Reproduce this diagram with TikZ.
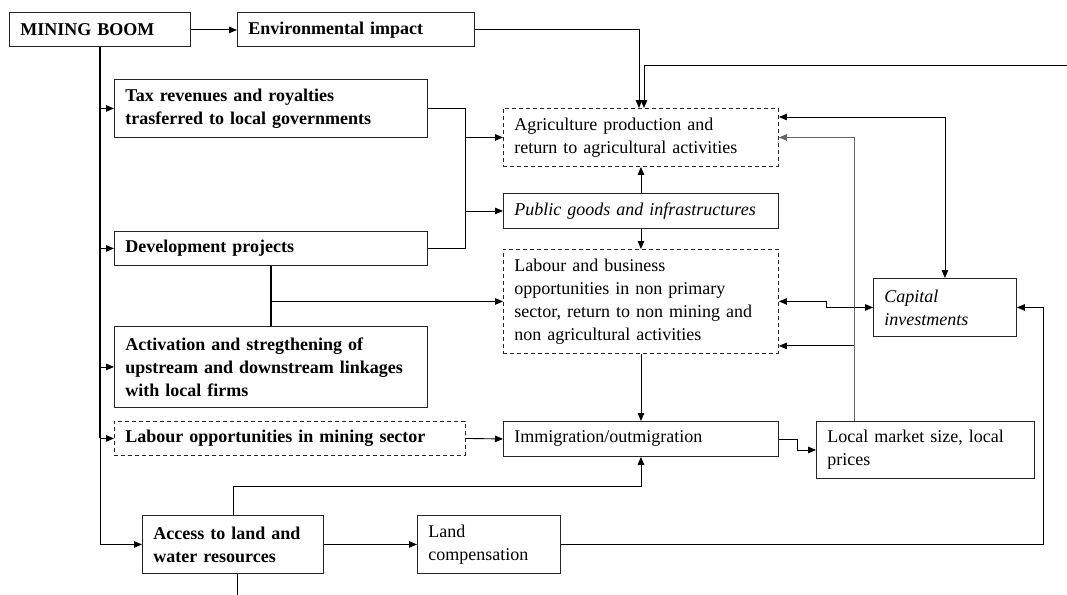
\documentclass[tikz,border=0pt]{standalone}
\usepackage{fontspec}
\setmainfont{Liberation Serif}
\usetikzlibrary{arrows.meta}
\tikzset{
  blk/.style={draw=black!85, line width=0.9pt, anchor=north west, align=left,
    inner xsep=11pt, inner ysep=0pt, font=\fontsize{18}{23}\selectfont},
  blkb/.style={blk, font=\fontsize{18}{23}\selectfont\bfseries},
  blki/.style={blk, font=\fontsize{18}{23}\selectfont\itshape},
  dashbox/.style={dash pattern=on 4pt off 3pt},
}
\begin{document}
\begin{tikzpicture}[x=1pt,y=-1pt,>={Triangle[length=8pt,width=6.5pt]},
  line width=0.9pt]
  \useasboundingbox (0,0) rectangle (1067,594);

  % left column
  \node[blkb,minimum width=181pt,minimum height=34pt,text width=159pt] (boom) at (9,12.5) {MINING BOOM};
  \node[blkb,minimum width=237pt,minimum height=34pt,text width=215pt] (env) at (237,12.5) {Environmental impact};
  \node[blkb,minimum width=313pt,minimum height=58pt,text width=291pt] (tax) at (114,79) {Tax revenues and royalties\\trasferred to local governments};
  \node[blkb,minimum width=313pt,minimum height=34pt,text width=291pt] (dev) at (114,231) {Development projects};
  \node[blkb,minimum width=313pt,minimum height=81pt,text width=291pt] (act) at (114,326) {Activation and stregthening of\\upstream and downstream linkages\\with local firms};
  \node[blkb,dashbox,minimum width=351pt,minimum height=34pt,text width=329pt] (labmin) at (114,421) {Labour opportunities in mining sector};
  \node[blkb,minimum width=181pt,minimum height=58pt,text width=159pt] (access) at (142,515) {Access to land and\\water resources};
  \node[blk,minimum width=143pt,minimum height=58pt,text width=121pt] (landc) at (417,515) {Land\\compensation};

  % middle column
  \node[blk,dashbox,minimum width=275pt,minimum height=58pt,text width=253pt] (agri) at (503,108) {Agriculture production and\\return to agricultural activities};
  \node[blki,minimum width=275pt,minimum height=35pt,text width=253pt] (pub) at (503,193) {Public goods and infrastructures};
  \node[blk,dashbox,minimum width=275pt,minimum height=104pt,text width=253pt] (labour) at (503,249) {Labour and business\\opportunities in non primary\\sector, return to non mining and\\non agricultural activities};
  \node[blk,minimum width=275pt,minimum height=35pt,text width=253pt] (immig) at (503,421) {Immigration/outmigration};

  % right column
  \node[blki,minimum width=143pt,minimum height=58pt,text width=121pt] (capital) at (873,278) {Capital\\investments};
  \node[blk,minimum width=218pt,minimum height=57pt,text width=196pt] (market) at (816,421) {Local market size, local\\prices};

  \coordinate (rin) at (1067,65);
  \coordinate (fork) at (465,107);
  \coordinate (mk) at (854,421);

  % trunk from the mining boom
  \draw[->] (boom.east) -- (env.west);
  \draw[line width=1.3pt] (boom.south) -- (boom.south |- labmin.west);
  \draw[->] (boom.south |- labmin.west) |- (access.west);
  \draw[->] (boom.south |- tax.west) -- (tax.west);
  \draw[->] (boom.south |- dev.west) -- (dev.west);
  \draw[->] (boom.south |- act.west) -- (act.west);
  \draw[->] (boom.south |- labmin.west) -- (labmin.west);

  % into agriculture from above
  \draw[->] (env.east) -| ([xshift=-2pt]agri.north);
  \draw[->] (rin) -| ([xshift=3pt]agri.north);

  % tax and development fork
  \draw (tax.east) -| (fork |- dev.east) -- (dev.east);
  \draw[->] (fork |- agri.west) -- (agri.west);
  \draw[->] (fork |- pub.west) -- (pub.west);
  \draw[->] (pub.north) -- (agri.south);
  \draw[->] (pub.south) -- (labour.north);
  \draw[line width=1.1pt] (dev.south) -- (act.north);
  \draw[->,line width=1.1pt] (dev.south |- labour.west) -- (labour.west);

  % migration
  \draw[->] (labour.south) -- (immig.north);
  \draw[->] (labmin.east) -- (immig.west);
  \draw[->] (immig.east) -- ++(19,0) |- (market.west);
  \draw[->] (access.north) -- ++(0,-29) -| (immig.south);
  \draw[->] (access.east) -- (landc.west);
  \draw ([xshift=4pt]access.south) -- ++(0,21);

  % feedbacks on the right
  \draw[->,draw=black!60] (mk) |- (agri.east);
  \draw[->] (mk |- labour.south east) ++(0,-8) -- ([yshift=8pt]labour.south east);
  \draw[<->] ([yshift=-9pt]agri.north east) -| (capital.north);
  \draw[<->] (labour.east) -- ++(48,0) |- (capital.west);
  \draw[->] (landc.east) -- ++(483,0) |- (capital.east);
\end{tikzpicture}
\end{document}
